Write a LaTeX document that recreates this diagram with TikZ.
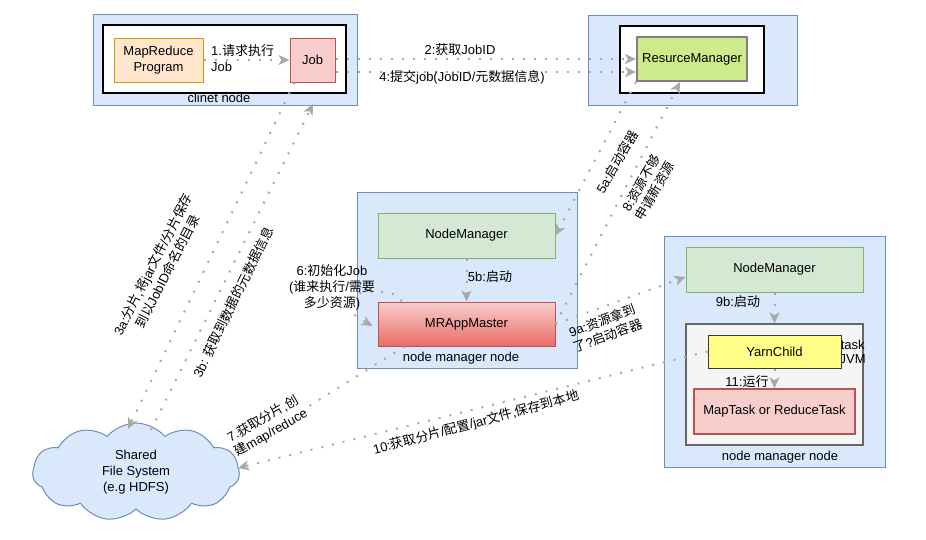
\documentclass[tikz,border=0pt]{standalone}
\usepackage{fontspec}
\setmainfont{Liberation Sans}
\newfontfamily\cjkfont{Noto Sans CJK SC}
\newcommand{\zh}[1]{{\cjkfont#1}}
\usetikzlibrary{arrows.meta,shapes.symbols,calc}
\definecolor{cfill}{HTML}{DAE8FC}
\definecolor{cline}{HTML}{6C8EBF}
\definecolor{ofill}{HTML}{FFE6CC}
\definecolor{oline}{HTML}{D79B00}
\definecolor{rfill}{HTML}{F8CECC}
\definecolor{rline}{HTML}{B85450}
\definecolor{rdark}{HTML}{EA6B66}
\definecolor{gfill}{HTML}{D5E8D4}
\definecolor{gline}{HTML}{82B366}
\definecolor{lfill}{HTML}{CDEB8B}
\definecolor{lline}{HTML}{808080}
\definecolor{kfill}{HTML}{F5F5F5}
\definecolor{kline}{HTML}{666666}
\definecolor{yfill}{HTML}{FFFF88}
\definecolor{yline}{HTML}{36393D}
\definecolor{agray}{HTML}{A8A8A8}
\tikzset{
  box/.style={draw, rectangle, inner sep=0pt, line width=1pt},
  container/.style={box, fill=cfill, draw=cline},
  whitebox/.style={box, fill=white, draw=black, line width=1.3pt},
  lbl/.style={inner sep=0pt, align=center},
  flow/.style={draw=agray, line width=2pt, dash pattern=on 2pt off 9pt,
    -{Stealth[length=11pt,width=10pt,inset=3pt,fill=agray]}},
}
\begin{document}
\begin{tikzpicture}[x=1pt,y=-1pt,font=\fontsize{13}{16}\selectfont]
\useasboundingbox (0,0) rectangle (926,539);

% client node
\node[container, minimum width=264pt, minimum height=91pt] (cn) at (225,59.5) {};
\node[whitebox, minimum width=243pt, minimum height=68pt] (cnin) at (224.5,59) {};
\node[box, fill=ofill, draw=oline, minimum width=89pt, minimum height=44pt, align=center] (mr) at (158.5,60) {MapReduce\\Program};
\node[box, fill=rfill, draw=rline, minimum width=45pt, minimum height=44pt] (job) at (312.5,60) {Job};
\node[lbl] (cnl) at (219,98) {clinet node};

% resource manager
\node[container, minimum width=209pt, minimum height=90pt] (rmo) at (692.5,60) {};
\node[whitebox, minimum width=144pt, minimum height=67pt] (rmin) at (692,59.5) {};
\node[box, fill=lfill, draw=lline, line width=2pt, minimum width=110pt, minimum height=44pt] (rm) at (692,59) {ResurceManager};

% middle node manager node
\node[container, minimum width=220pt, minimum height=176pt] (mid) at (467,280) {};
\node[box, fill=gfill, draw=gline, minimum width=177pt, minimum height=45pt] (nm1) at (466.5,235.5) {NodeManager};
\node[box, top color=rfill, bottom color=rdark, draw=rline, minimum width=177pt, minimum height=44pt] (mram) at (466.5,324) {MRAppMaster};
\node[lbl] (midl) at (461,358) {node manager node};

% right node manager node
\node[container, minimum width=221pt, minimum height=231pt] (rgt) at (774.5,351.5) {};
\node[box, fill=gfill, draw=gline, minimum width=177pt, minimum height=45pt] (nm2) at (774.5,269.5) {NodeManager};
\node[box, fill=kfill, draw=kline, line width=1.3pt, minimum width=177pt, minimum height=121pt] (jvm) at (774.5,384.5) {};
\node[lbl, anchor=west, align=center, font=\fontsize{13}{14}\selectfont] (jvml) at (839.5,352) {task\\JVM};
\node[box, fill=yfill, draw=yline, minimum width=133pt, minimum height=33pt] (yc) at (774.5,351.5) {YarnChild};
\node[box, fill=rfill, draw=rline, line width=1.3pt, minimum width=161pt, minimum height=45pt] (mt) at (774.5,411.5) {MapTask or ReduceTask};
\node[lbl] (rgtl) at (780,457) {node manager node};

% shared file system
\node[cloud, cloud puffs=11, cloud puff arc=100, aspect=2.1, draw=cline, fill=cfill, line width=1pt,
  minimum width=207pt, minimum height=98pt, align=center, inner sep=0pt] (fs) at (136,472)
  {Shared\\File System\\(e.g HDFS)};

% free ends
\coordinate (c3a) at (128,429);
\coordinate (s3b) at (151,430);
\coordinate (e3b) at (313,104);
\coordinate (c7) at (245,446);
\coordinate (c10) at (238,468);

% connectors
\draw[flow] (mr.east) -- (job.west);
\draw[flow] (job.east |- 0,59) -- (rm.west |- 0,59);
\draw[flow] (job.east |- 0,72) -- (rm.west |- 0,72);
\draw[flow] ($(job.south west)+(5,0)$) -- (c3a);
\draw[flow] (s3b) -- (e3b);
\draw[flow] (rm.south west) -- (nm1.east);
\draw[flow] (nm1.south) -- (mram.north);
\draw[flow] ($(mram.north west)+(24,0)$) .. controls (400,283) and (308,290) .. ($(mram.west)+(-5,2)$);
\draw[flow] (mram.east) -- ($(rm.south)+(-12,0)$);
\draw[flow] (mram.east) -- (nm2.west |- 0,277);
\draw[flow] ($(mram.south west)+(27,0)$) -- (c7);
\draw[flow] (yc.west) -- (c10);
\draw[flow] (nm2.south) -- (jvm.north);
\draw[flow] (yc.south) -- (mt.north);

% labels
\node[lbl, anchor=west, align=left] (l1) at (211,58) {1.\zh{请求执行}\\Job};
\node[lbl] (l2) at (460,50) {2:\zh{获取}JobID};
\node[lbl] (l4) at (462,77) {4:\zh{提交}job(JobID/\zh{元数据信息})};
\node[lbl, rotate=63] (l3a) at (160,268) {3a:\zh{分片},\zh{将}jar\zh{文件}/\zh{分片保存}\\\zh{到以}JobID\zh{命名的目录}};
\node[lbl, rotate=64] (l3b) at (233,302) {3b: \zh{获取到数据的元数据信息}};
\node[lbl, rotate=60] (l5a) at (617,162) {5a:\zh{启动容器}};
\node[lbl, rotate=60] (l8) at (648,187) {8:\zh{资源不够}\\\zh{申请新资源}};
\node[lbl] (l5b) at (490,277) {5b:\zh{启动}};
\node[lbl] (l6) at (332,287) {6:\zh{初始化}Job\\(\zh{谁来执行}/\zh{需要}\\\zh{多少资源})};
\node[lbl, rotate=20] (l9a) at (605,328) {9a:\zh{资源拿到}\\\zh{了}?\zh{启动容器}};
\node[lbl, rotate=30, fill=white, inner sep=1pt] (l7) at (267,426) {7.\zh{获取分片},\zh{创}\\\zh{建}map/reduce};
\node[lbl, rotate=15] (l10) at (476,423) {10:\zh{获取分片}/\zh{配置}/jar\zh{文件},\zh{保存到本地}};
\node[lbl] (l9b) at (738,302) {9b:\zh{启动}};
\node[lbl] (l11) at (747,382) {11:\zh{运行}};
\end{tikzpicture}
\end{document}
